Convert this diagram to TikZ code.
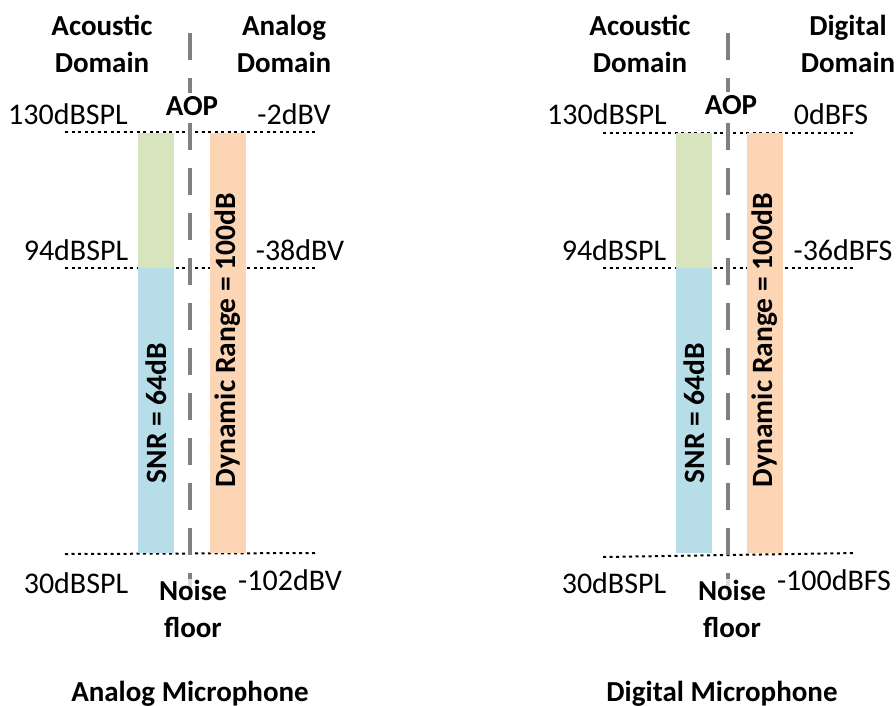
\documentclass[tikz,border=0pt]{standalone}
\usepackage{fontspec}
\setmainfont{Carlito}
\definecolor{barGreen}{HTML}{D7E4BD}
\definecolor{barBlue}{HTML}{B7DEE8}
\definecolor{barOrange}{HTML}{FCD5B5}
\definecolor{divGray}{HTML}{808080}
\begin{document}
\begin{tikzpicture}[x=1pt,y=-1pt,
  lbl/.style={font=\fontsize{30}{35}\selectfont, inner sep=0pt, anchor=base},
  head/.style={font=\bfseries\fontsize{29}{37}\selectfont, inner sep=0pt, align=center, anchor=base},
  floorlbl/.style={font=\bfseries\fontsize{29}{37}\selectfont, inner sep=1pt, align=center, anchor=base, fill=white, fill opacity=0.75, text opacity=1},
  aoplbl/.style={font=\bfseries\fontsize{29}{35}\selectfont, inner sep=3pt, anchor=base, fill=white},
  title/.style={font=\bfseries\fontsize{29}{35}\selectfont, inner sep=0pt, anchor=base},
  divider/.style={draw=divGray, line width=4pt, dash pattern=on 27pt off 18pt},
  level/.style={draw=black, line width=2pt, dash pattern=on 3pt off 3.5pt},
  barlbl/.style={font=\bfseries\fontsize{29.5}{35}\selectfont, inner sep=0pt, rotate=90}
]
\useasboundingbox (0,0) rectangle (896,705);

% ---------------- Analog microphone ----------------
\coordinate (a1l) at (65,132);  \coordinate (a1r) at (318,132);
\coordinate (a2l) at (65,268);  \coordinate (a2r) at (318,268);
\coordinate (a3l) at (65,554);  \coordinate (a3r) at (318,553);
\draw[level] (a1l) -- (a1r);
\draw[level] (a2l) -- (a2r);
\draw[level] (a3l) -- (a3r);
\fill[barGreen] (138,133) rectangle (174,268);
\fill[barBlue] (138,268) rectangle (174,553);
\fill[barOrange] (210,133) rectangle (246,553);
\coordinate (atop) at (190,33); \coordinate (abot) at (190,600);
\draw[divider] (atop) -- (abot);

\node[barlbl] (asnr) at (156,413) {SNR = 64dB};
\node[barlbl] (adr) at (228,340) {Dynamic Range = 100dB};

\node[head] (aac) at (102,72) {Acoustic\\Domain};
\node[head] (aan) at (284,72) {Analog\\Domain};
\node[aoplbl] (aaop) at (192,115) {AOP};
\node[lbl] (a130) at (68,124) {130dBSPL};
\node[lbl] (a2) at (294,124) {-2dBV};
\node[lbl] (a94) at (76,260) {94dBSPL};
\node[lbl] (a38) at (300,260) {-38dBV};
\node[lbl] (a30) at (76,593) {30dBSPL};
\node[lbl] (a102) at (290,590) {-102dBV};
\node[floorlbl] (anf) at (193,637) {Noise\\floor};
\node[title] (atitle) at (190,701) {Analog Microphone};

% ---------------- Digital microphone ----------------
\coordinate (d1l) at (603,133);  \coordinate (d1r) at (855,133);
\coordinate (d2l) at (603,268);  \coordinate (d2r) at (855,268);
\coordinate (d3l) at (603,557);  \coordinate (d3r) at (855,553);
\draw[level] (d1l) -- (d1r);
\draw[level] (d2l) -- (d2r);
\draw[level] (d3l) -- (d3r);
\fill[barGreen] (676,133) rectangle (712,268);
\fill[barBlue] (676,268) rectangle (712,553);
\fill[barOrange] (747,133) rectangle (783,553);
\coordinate (dtop) at (728,33); \coordinate (dbot) at (728,600);
\draw[divider] (dtop) -- (dbot);

\node[barlbl] (dsnr) at (694,413) {SNR = 64dB};
\node[barlbl] (ddr) at (765,340) {Dynamic Range = 100dB};

\node[head] (dac) at (640,72) {Acoustic\\Domain};
\node[head] (ddi) at (848,72) {Digital\\Domain};
\node[aoplbl] (daop) at (731,114) {AOP};
\node[lbl] (d130) at (607,124) {130dBSPL};
\node[lbl] (d0) at (831,124) {0dBFS};
\node[lbl] (d94) at (614,260) {94dBSPL};
\node[lbl] (d36) at (843,260) {-36dBFS};
\node[lbl] (d30) at (614,593) {30dBSPL};
\node[lbl] (d100) at (834,590) {-100dBFS};
\node[floorlbl] (dnf) at (732,637) {Noise\\floor};
\node[title] (dtitle) at (722,701) {Digital Microphone};
\end{tikzpicture}
\end{document}
